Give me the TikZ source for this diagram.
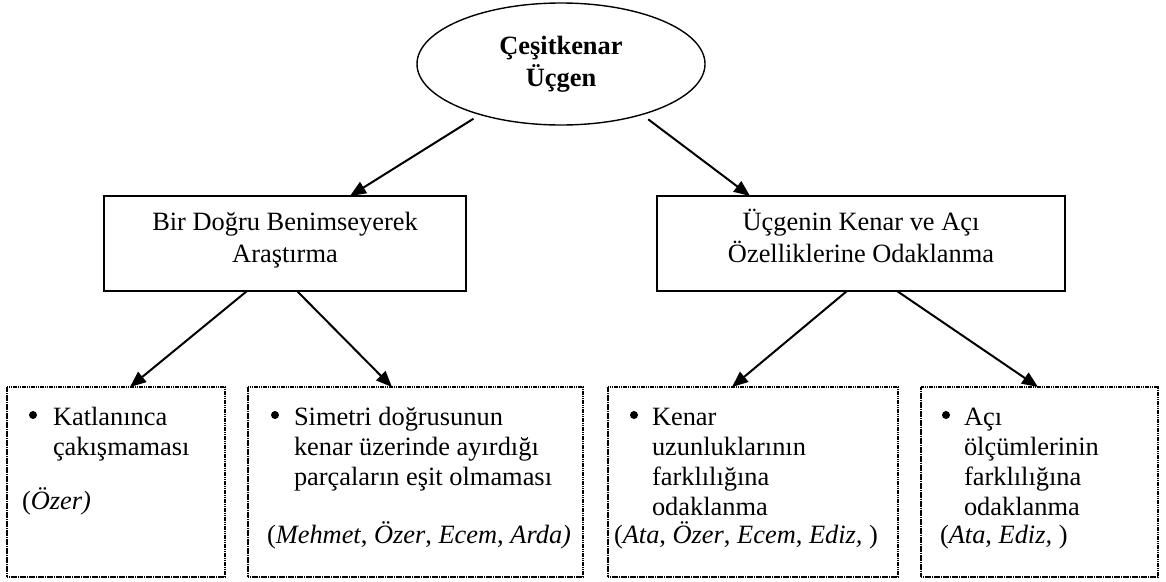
\documentclass[tikz,border=0pt]{standalone}
\usepackage{fontspec}
\setmainfont{Liberation Serif}
\usetikzlibrary{shapes.geometric,arrows.meta}
\begin{document}
\begin{tikzpicture}[x=1pt,y=-1pt,
  body/.style={font=\fontsize{26.4}{30}\selectfont, inner sep=0pt, outer sep=0pt},
  line/.style={body, anchor=base west},
  cline/.style={body, anchor=base},
  bul/.style={circle, fill, inner sep=0pt, minimum size=8pt},
  topic/.style={draw, line width=1.4pt, ellipse, minimum width=288pt, minimum height=122pt,
    inner sep=0pt, outer sep=0pt, align=center, font=\fontsize{26.4}{32}\selectfont\bfseries},
  themebox/.style={draw, line width=2.8pt, rectangle, anchor=north west, outer sep=0pt, inner sep=0pt},
  leafbox/.style={draw, line width=2pt, dash pattern=on 1.3pt off 0.5pt, rectangle,
    anchor=north west, outer sep=0pt, inner sep=0pt, minimum height=190pt},
  link/.style={line width=2pt, -{Triangle[length=16pt,width=13pt]}}
]
\useasboundingbox (0,0) rectangle (1166,581);

% root
\node[topic] (ell) at (561,64) {Çeşitkenar\\Üçgen};

% two themes
\node[themebox, minimum width=362pt, minimum height=95pt] (lb) at (104,196) {};
\node[cline] (lbt1) at (285,230) {Bir Doğru Benimseyerek};
\node[cline] (lbt2) at (285,262) {Araştırma};

\node[themebox, minimum width=408pt, minimum height=95pt] (rb) at (657,196) {};
\node[cline] (rbt1) at (861,230) {Üçgenin Kenar ve Açı};
\node[cline] (rbt2) at (861,262) {Özelliklerine Odaklanma};

% leaf boxes
\node[leafbox, minimum width=218pt] (b1) at (7,387) {};
\node[leafbox, minimum width=335pt] (b2) at (248,387) {};
\node[leafbox, minimum width=290pt] (b3) at (608,387) {};
\node[leafbox, minimum width=237pt] (b4) at (921,387) {};

% leaf 1
\node[bul] (d1) at (33,415) {};
\node[line] (b1l1) at (53,425) {Katlanınca};
\node[line] (b1l2) at (53,455) {çakışmaması};
\node[line] (b1p) at (22,509.5) {(\textit{Özer)}};

% leaf 2
\node[bul] (d2) at (275,415) {};
\node[line] (b2l1) at (294,425) {Simetri doğrusunun};
\node[line] (b2l2) at (294,455) {kenar üzerinde ayırdığı};
\node[line] (b2p3) at (294,485) {parçaların eşit olmaması};
\node[line] (b2p) at (267,543) {(\textit{Mehmet}, \textit{Özer}, \textit{Ecem}, \textit{Arda)}};

% leaf 3
\node[bul] (d3) at (634,415) {};
\node[line] (b3l1) at (652,425) {Kenar};
\node[line] (b3l2) at (652,455) {uzunluklarının};
\node[line] (b3l3) at (652,485) {farklılığına};
\node[line] (b3l4) at (652,515) {odaklanma};
\node[line] (b3p) at (614,543.5) {(\textit{Ata}, \textit{Özer}, \textit{Ecem}, \textit{Ediz,} )};

% leaf 4
\node[bul] (d4) at (946,415) {};
\node[line] (b4l1) at (964,425) {Açı};
\node[line] (b4l2) at (964,455) {ölçümlerinin};
\node[line] (b4l3) at (964,485) {farklılığına};
\node[line] (b4l4) at (964,515) {odaklanma};
\node[line] (b4p) at (940,543.5) {(\textit{Ata}, \textit{Ediz,} )};

% connectors
\draw[link, shorten <=8pt] (ell.212) -- ([xshift=246pt]lb.north west);
\draw[link, shorten <=8pt] (ell.328) -- ([xshift=93pt]rb.north west);
\draw[link] ([xshift=143pt]lb.south west) -- ([xshift=123pt]b1.north west);
\draw[link] ([xshift=193pt]lb.south west) -- ([xshift=144pt]b2.north west);
\draw[link] ([xshift=190pt]rb.south west) -- ([xshift=124pt]b3.north west);
\draw[link] ([xshift=240pt]rb.south west) -- ([xshift=117pt]b4.north west);
\end{tikzpicture}
\end{document}
